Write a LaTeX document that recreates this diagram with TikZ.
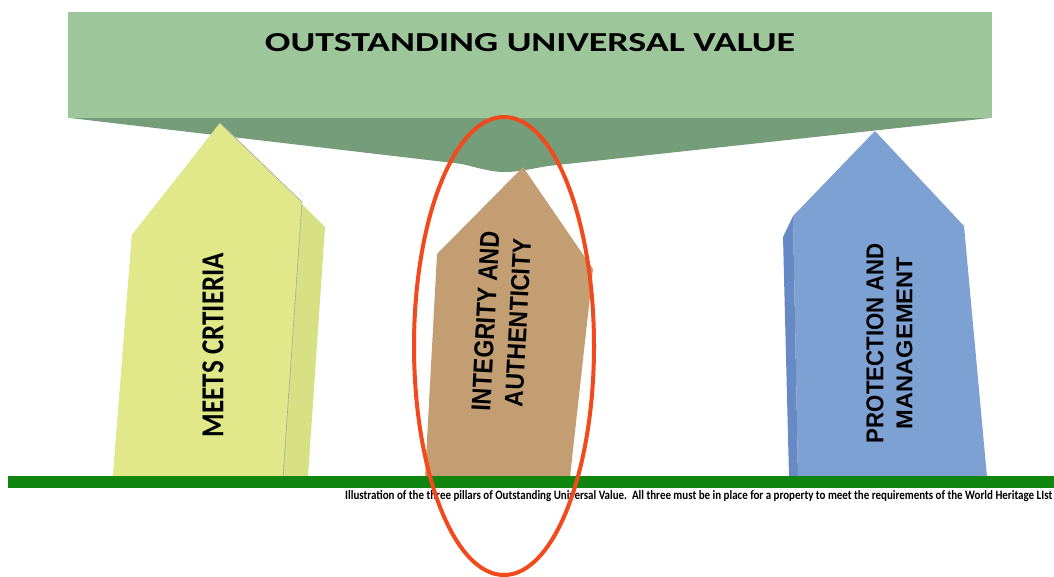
\documentclass[tikz,border=0pt]{standalone}
\usepackage{fontspec}
\usepackage{graphicx}
\newfontfamily\carlito{Carlito}
\newfontfamily\libsans{Liberation Sans}
\definecolor{bannergreen}{RGB}{157,199,155}
\definecolor{shadegreen}{RGB}{118,157,122}
\definecolor{crityellow}{RGB}{224,232,138}
\definecolor{critside}{RGB}{216,224,132}
\definecolor{integtan}{RGB}{194,158,114}
\definecolor{protblue}{RGB}{126,161,212}
\definecolor{protside}{RGB}{104,138,196}
\definecolor{groundgreen}{RGB}{16,134,16}
\definecolor{ringred}{RGB}{242,74,28}
\tikzset{
  pillartext/.style={rotate=90,inner sep=0pt,align=center,text=black},
  edge/.style={draw=black!35,line width=0.6pt}
}
\begin{document}
\begin{tikzpicture}[x=1pt,y=-1pt]
    \useasboundingbox (0,0) rectangle (1054,576);
    \clip (0,0) rectangle (1054,576);
    \fill[bannergreen] (68,12) rectangle (992,118);
    \fill[shadegreen] (70,118) -- (462,164) .. controls (482,169) and (492,172) .. (505,172)
        .. controls (518,172) and (530,169) .. (548,166) -- (990,118) -- cycle;
    \node[inner sep=0pt,anchor=base] (ouv) at (530,51) {\resizebox{530pt}{18pt}{\carlito\bfseries OUTSTANDING UNIVERSAL VALUE}};
    \fill[critside] (220,123) -- (325,227) -- (308,477) -- (113,477) -- (132,235) -- cycle;
    \fill[crityellow] (220,123) -- (302,202) -- (283,477) -- (113,477) -- (132,235) -- cycle;
    \draw[edge] (220,123) -- (302,202) -- (283,477);
    \fill[integtan] (523,167) -- (582,253) -- (593,269) -- (570,477) -- (425,477) -- (437,254) -- cycle;
    \fill[protblue] (875,131) -- (964,226) -- (987,477) -- (798,477) -- (793,216) -- cycle;
    \fill[protside] (793,216) -- (783,237) -- (789,477) -- (798,477) -- cycle;
    \node[pillartext] (criteria) at (213,345) {\resizebox{184pt}{21pt}{\carlito\bfseries MEETS CRTIERIA}};
    \node[pillartext,rotate=-3,font=\fontsize{10}{32}\selectfont] (integrity) at (501.5,322)
        {\resizebox{180pt}{19pt}{\libsans\bfseries INTEGRITY AND}\\\resizebox{168pt}{18pt}{\libsans\bfseries AUTHENTICITY}};
    \node[pillartext,font=\fontsize{10}{29}\selectfont] (protection) at (889.5,343)
        {\resizebox{200pt}{17pt}{\libsans\bfseries PROTECTION AND}\\\resizebox{172pt}{16pt}{\libsans\bfseries MANAGEMENT}};
    \fill[groundgreen] (8,476) rectangle (1054,488);
    \node[inner sep=0pt,anchor=base west] (note) at (345,499)
        {\resizebox{707pt}{9pt}{\carlito\bfseries Illustration of the three pillars of Outstanding Universal Value.\ \ All three must be in place for a property to meet the requirements of the World Heritage LIst}};
    \draw[ringred,line width=4pt] (504,346) ellipse [x radius=90,y radius=229];
\end{tikzpicture}
\end{document}
